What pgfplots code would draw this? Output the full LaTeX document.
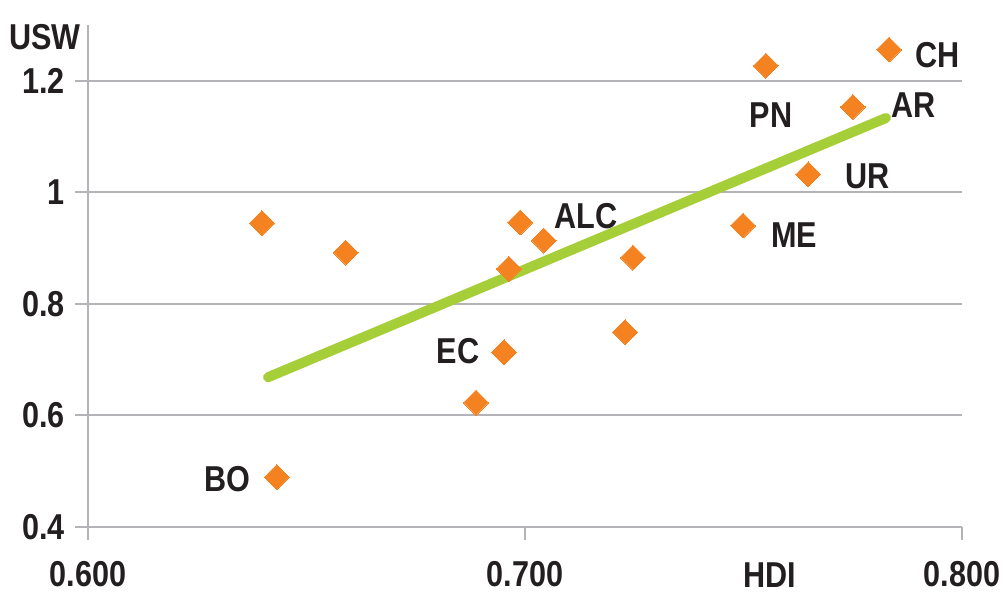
\documentclass[border=0pt]{standalone}
\usepackage{pgfplots}
\pgfplotsset{compat=1.18}
\usepackage{fontspec}
\setmainfont{Liberation Sans}[FakeStretch=0.85]
\definecolor{mkorange}{HTML}{F58220}
\definecolor{trendgreen}{HTML}{A6CE39}
\definecolor{gridgray}{HTML}{B4B4B8}
\definecolor{txt}{HTML}{231F20}
\tikzset{lbl/.style={font=\fontsize{18}{20}\selectfont\bfseries, text=txt, inner sep=0pt}}
\begin{document}
\begin{tikzpicture}
\useasboundingbox (-44pt,-34pt) rectangle (458pt,263.5pt);
\begin{axis}[
  at={(0pt,0pt)}, anchor=origin,
  scale only axis,
  width=437pt, height=251pt,
  xmin=0.6, xmax=0.8, ymin=0.4, ymax=1.3,
  xtick={0.6,0.7,0.8},
  ytick={0.4,0.6,0.8,1.0,1.2},
  axis x line*=bottom, axis y line*=left,
  axis line style={gridgray, line width=1pt, -},
  tick style={gridgray, line width=1pt},
  tick align=outside,
  major tick length=6.5pt,
  ymajorgrids,
  grid style={gridgray, line width=1pt},
  xticklabel style={/pgf/number format/fixed, /pgf/number format/fixed zerofill, /pgf/number format/precision=3, yshift=-7pt},
  yticklabel style={xshift=-1.5pt},
  /pgf/number format/assume math mode=true,
  tick label style={font=\fontsize{18}{20}\selectfont\bfseries, text=txt},
  clip=false,
]
\addplot[trendgreen, line width=5pt, line cap=round] coordinates {(0.6412,0.6685) (0.7826,1.1333)};
\addplot[mkorange, only marks, mark=square*, mark size=4.4pt, mark options={rotate=45, fill=mkorange, draw=mkorange, line width=0pt}] coordinates {
(0.6398,0.945)
(0.6590,0.892)
(0.6432,0.4895)
(0.6888,0.623)
(0.6952,0.7135)
(0.6963,0.863)
(0.6989,0.946)
(0.7043,0.9135)
(0.7229,0.7495)
(0.7247,0.883)
(0.7499,0.9405)
(0.7551,1.227)
(0.7648,1.0324)
(0.7750,1.153)
(0.7833,1.256)
};
\node[lbl] at (axis cs:0.7945,1.2468) {CH};
\node[lbl] at (axis cs:0.7563,1.1387) {PN};
\node[lbl] at (axis cs:0.7890,1.1568) {AR};
\node[lbl] at (axis cs:0.7783,1.0288) {UR};
\node[lbl] at (axis cs:0.7616,0.9225) {ME};
\node[lbl] at (axis cs:0.7140,0.9568) {ALC};
\node[lbl] at (axis cs:0.6847,0.7153) {EC};
\node[lbl] at (axis cs:0.6318,0.4865) {BO};
\node[lbl] at (axis cs:0.7560,0.3140) {HDI};
\node[lbl] at (axis cs:0.5902,1.2775) {USW};
\end{axis}
\end{tikzpicture}
\end{document}
